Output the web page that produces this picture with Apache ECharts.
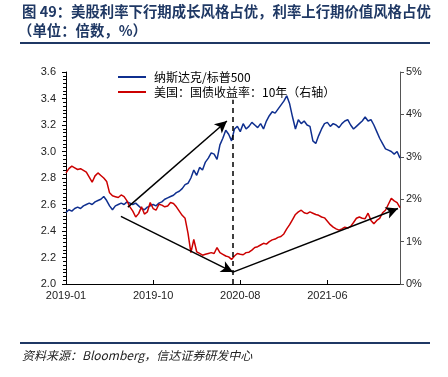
<!DOCTYPE html>
<html>
<head>
<meta charset="utf-8">
<script src="https://cdn.jsdelivr.net/npm/echarts@6/dist/echarts.min.js"></script>
<style>
  html, body { margin: 0; padding: 0; background: #fff; }
  #main { width: 448px; height: 377px; }
</style>
</head>
<body>
<div id="main"></div>
<script>
// 横轴刻度标签（每 30 个点一个）
var tickLabels = ['2019-01', '2019-10', '2020-08', '2021-06'];

// 纳斯达克/标普500（左轴，倍数）
var ratio = [
  2.54, 2.56, 2.55, 2.57, 2.58, 2.57, 2.59, 2.60, 2.61, 2.60,
  2.62, 2.63, 2.64, 2.66, 2.63, 2.59, 2.56, 2.59, 2.60, 2.61,
  2.60, 2.62, 2.61, 2.60, 2.61, 2.59, 2.57, 2.56, 2.58, 2.59,
  2.60, 2.59, 2.61, 2.62, 2.64, 2.65, 2.66, 2.67, 2.69, 2.70,
  2.72, 2.75, 2.76, 2.80, 2.86, 2.82, 2.88, 2.86, 2.92, 2.95,
  2.99, 2.98, 2.94, 3.05, 3.10, 3.16, 3.13, 3.08, 3.17, 3.19,
  3.15, 3.21, 3.17, 3.19, 3.22, 3.20, 3.18, 3.21, 3.17, 3.23,
  3.27, 3.30, 3.29, 3.32, 3.35, 3.38, 3.42, 3.36, 3.26, 3.17,
  3.24, 3.21, 3.23, 3.20, 3.19, 3.08, 3.06, 3.12, 3.17, 3.21,
  3.22, 3.19, 3.21, 3.20, 3.18, 3.21, 3.23, 3.24, 3.20, 3.17,
  3.19, 3.21, 3.23, 3.26, 3.23, 3.24, 3.20, 3.15, 3.10, 3.06,
  3.02, 3.01, 3.00, 2.98, 3.00, 2.95
];

// 美国：国债收益率：10年（右轴，%）
var yield10 = [
  2.62, 2.72, 2.78, 2.74, 2.70, 2.72, 2.68, 2.64, 2.52, 2.40,
  2.55, 2.62, 2.56, 2.50, 2.42, 2.15, 2.08, 2.06, 2.04, 2.10,
  2.06, 1.96, 1.82, 1.72, 1.58, 1.66, 1.82, 1.65, 1.70, 1.92,
  1.78, 1.74, 1.88, 1.86, 1.82, 1.84, 1.92, 1.90, 1.82, 1.72,
  1.62, 1.55, 1.20, 0.74, 1.05, 0.76, 0.72, 0.68, 0.70, 0.72,
  0.74, 0.72, 0.86, 0.74, 0.70, 0.66, 0.64, 0.58, 0.66, 0.72,
  0.70, 0.69, 0.74, 0.75, 0.80, 0.86, 0.88, 0.92, 0.96, 0.94,
  1.00, 1.04, 1.06, 1.10, 1.12, 1.18, 1.30, 1.40, 1.52, 1.64,
  1.70, 1.74, 1.68, 1.66, 1.70, 1.67, 1.64, 1.62, 1.58, 1.56,
  1.48, 1.40, 1.34, 1.30, 1.27, 1.30, 1.34, 1.32, 1.36, 1.45,
  1.55, 1.58, 1.55, 1.54, 1.67, 1.50, 1.42, 1.50, 1.55, 1.68,
  1.74, 1.88, 2.02, 1.96, 1.92, 1.80
];

// 箭头（左轴坐标：[序号, 倍数]）
var arrows = [
  [[21.3, 2.58], [55.4, 3.23]],
  [[18.9, 2.51], [57.5, 2.09]],
  [[57.5, 2.09], [114.3, 2.57]],
  [[59.6, 3.23], [116.7, 2.88]]
];
var dashX = 57.5;

var points = function (arr) {
  return arr.map(function (v, i) { return [i, v]; });
};

var myChart = echarts.init(document.getElementById('main'));
var font = '"Liberation Sans", Arial, sans-serif';
var cjk = '"Noto Sans CJK SC", sans-serif';

myChart.setOption({
  animation: false,
  grid: { left: 66, right: 48, top: 72, bottom: 93 },
  legend: {
    orient: 'vertical',
    left: 113,
    top: 66,
    itemWidth: 28,
    itemHeight: 2,
    itemGap: 3,
    icon: 'rect',
    textStyle: { fontSize: 12, color: '#000', fontFamily: cjk, padding: [0, 0, 0, 3] },
    data: ['纳斯达克/标普500', '美国：国债收益率：10年（右轴）']
  },
  xAxis: {
    type: 'value',
    min: 0,
    max: ratio.length - 1,
    interval: 30,
    axisLine: { onZero: false, lineStyle: { color: '#000', width: 1 } },
    axisTick: { inside: true, length: 4, lineStyle: { color: '#000' } },
    splitLine: { show: false },
    axisLabel: {
      showMaxLabel: false,
      color: '#222',
      fontSize: 11,
      fontFamily: font,
      margin: 6,
      formatter: function (v) { return tickLabels[v / 30] || ''; }
    }
  },
  yAxis: [
    {
      type: 'value',
      min: 2.0,
      max: 3.6,
      interval: 0.2,
      axisLine: { show: true, lineStyle: { color: '#000' } },
      axisTick: { show: true, length: 4, lineStyle: { color: '#000' } },
      minorTick: { show: true, splitNumber: 7, length: 3, lineStyle: { color: '#000' } },
      splitLine: { show: false },
      axisLabel: {
        color: '#222', fontSize: 11, fontFamily: font, margin: 10,
        formatter: function (v) { return v.toFixed(1); }
      }
    },
    {
      type: 'value',
      min: 0,
      max: 5,
      interval: 1,
      axisLine: { show: true, lineStyle: { color: '#555' } },
      axisTick: { show: true, length: 4, lineStyle: { color: '#555' } },
      splitLine: { show: false },
      axisLabel: { color: '#222', fontSize: 11, fontFamily: font, margin: 6, formatter: '{value}%' }
    }
  ],
  series: [
    {
      name: '纳斯达克/标普500',
      type: 'line',
      yAxisIndex: 0,
      data: points(ratio),
      showSymbol: false,
      clip: false,
      color: '#0f2f8f',
      lineStyle: { width: 1.5, color: '#0f2f8f' },
      markLine: {
        silent: true,
        symbol: ['none', 'arrow'],
        symbolSize: [9, 12],
        label: { show: false },
        lineStyle: { color: '#000', width: 1.5, type: 'solid' },
        data: arrows.map(function (a) {
          return [{ coord: a[0] }, { coord: a[1] }];
        }).concat([[
          { coord: [dashX, 2.0], symbol: 'none', lineStyle: { type: [5, 4], width: 1.5, color: '#000' } },
          { coord: [dashX, 3.39], symbol: 'none' }
        ]])
      }
    },
    {
      name: '美国：国债收益率：10年（右轴）',
      type: 'line',
      yAxisIndex: 1,
      data: points(yield10),
      showSymbol: false,
      color: '#cc0000',
      lineStyle: { width: 1.5, color: '#cc0000' }
    }
  ],
  graphic: [
    {
      type: 'text', left: 22, top: 4,
      style: {
        text: '图 49：美股利率下行期成长风格占优，利率上行期价值风格占优',
        font: 'bold 14.4px "Noto Sans CJK SC", sans-serif', fill: '#1f3864'
      }
    },
    {
      type: 'text', left: 18, top: 23,
      style: {
        text: '（单位：倍数，%）',
        font: 'bold 14.4px "Noto Sans CJK SC", sans-serif', fill: '#1f3864'
      }
    },
    {
      type: 'line',
      shape: { x1: 20, y1: 43, x2: 430, y2: 43 },
      style: { stroke: '#1f3864', lineWidth: 2 }
    },
    {
      type: 'line',
      shape: { x1: 20, y1: 343, x2: 430, y2: 343 },
      style: { stroke: '#1f3864', lineWidth: 2 }
    },
    {
      type: 'text', left: 22, top: 349,
      style: {
        text: '资料来源：Bloomberg，信达证券研发中心',
        font: 'italic 12px "Noto Sans CJK SC", sans-serif', fill: '#222'
      }
    }
  ]
});
</script>
</body>
</html>
